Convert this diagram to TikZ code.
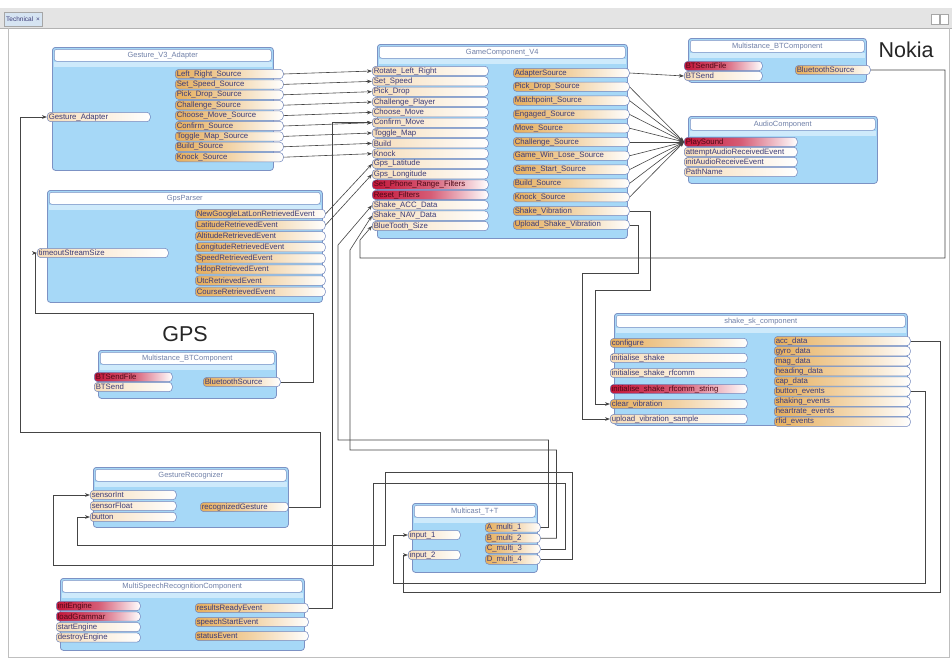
\documentclass[tikz,border=0pt]{standalone}
\usepackage{fontspec}
\setmainfont{Liberation Sans}
\usetikzlibrary{arrows.meta}
\definecolor{boxfill}{HTML}{A6D8F7}
\definecolor{boxdraw}{HTML}{7C92C4}
\definecolor{titletext}{HTML}{7080A8}
\definecolor{portdraw}{HTML}{6E84BC}
\definecolor{porttext}{HTML}{3C3C78}
\definecolor{outcol}{HTML}{E6AE5C}
\definecolor{incol}{HTML}{F6DDBA}
\definecolor{redcol}{HTML}{C4163A}
\definecolor{linecol}{HTML}{454545}
\definecolor{barfill}{HTML}{E4E4E4}
\definecolor{tabfill}{HTML}{D6E4F2}
\tikzset{
  compbox/.style={draw=boxdraw, fill=boxfill, rounded corners=3pt, line width=0.8pt, inner sep=0pt, anchor=north west},
  ttl/.style={draw=boxdraw, fill=white, rounded corners=2.5pt, line width=0.5pt, anchor=north west, inner sep=0pt, font=\fontsize{7.5}{8}\selectfont, text=titletext},
  portbase/.style={draw=portdraw, line width=0.5pt, rounded corners=3.5pt, inner xsep=1.5pt, inner ysep=0pt, minimum height=9.3pt, anchor=west, font=\fontsize{7.8}{8}\selectfont, text=porttext, align=left},
  inport/.style={portbase, left color=incol, right color=white},
  outport/.style={portbase, left color=outcol, right color=white, middle color=outcol!55!white},
  redport/.style={portbase, left color=redcol, right color=white, middle color=redcol!70!white, text=redcol!40!black},
  conn/.style={draw=linecol, line width=0.6pt},
  arr/.style={conn, -{Stealth[length=5pt,width=3.6pt]}},
  biglabel/.style={font=\fontsize{21.5}{24}\selectfont, text=black!85},
}
\newcommand{\mkcomp}[6]{%
  \node[compbox, minimum width=#4pt, minimum height=#5pt] (#1) at (#2,#3) {};
  \fill[boxfill!55!white] (#2+1.5,#3+15) rectangle (#2+#4-1.5,#3+20);
  \pgfmathsetmacro{\myTW}{#4-4}%
  \node[ttl, minimum width=\myTW pt, minimum height=12pt] (#1-t) at (#2+2,#3+2) {#6};}
\newcommand{\mkport}[6]{%
  \pgfmathsetmacro{\myTW}{#4-3}%
  \node[#1, text width=\myTW pt] (#2) at (#3,#5) {#6};}
\begin{document}
\begin{tikzpicture}[x=1pt,y=-1pt]
\useasboundingbox (0,0) rectangle (952,659);
\fill[white] (0,0) rectangle (952,659);
% window chrome
\fill[barfill] (0,8) rectangle (952,28);
\draw[gray!60] (0,28) -- (952,28);
\node[draw=gray!70, fill=tabfill, font=\fontsize{6.5}{7}\selectfont, text=porttext, anchor=west, inner sep=2pt, minimum height=14pt] (tab) at (4,19) {Technical \,×};
\node[draw=gray!70, fill=white, minimum width=8pt, minimum height=10pt, inner sep=0pt] (ic1) at (935,19) {};
\node[draw=gray!70, fill=white, minimum width=8pt, minimum height=10pt, inner sep=0pt] (ic2) at (944,19) {};
\draw[gray!50] (8,28) -- (8,657) -- (949,657) -- (949,28);

% ---------------- components
\mkcomp{ga}{52}{47}{221}{123}{Gesture\_V3\_Adapter}
\mkcomp{gm}{377}{44}{250}{194}{GameComponent\_V4}
\mkcomp{nk}{688}{38}{178}{44}{Multistance\_BTComponent}
\mkcomp{au}{688}{116}{189}{67}{AudioComponent}
\mkcomp{gp}{47}{190}{275}{112}{GpsParser}
\mkcomp{gb}{98}{350}{178}{48}{Multistance\_BTComponent}
\mkcomp{sk}{614}{313}{293}{112}{shake\_sk\_component}
\mkcomp{gr}{93}{467}{195}{60}{GestureRecognizer}
\mkcomp{mc}{412}{503}{125}{69}{Multicast\_T+T}
\mkcomp{ms}{60}{578}{244}{72}{MultiSpeechRecognitionComponent}

\node[biglabel] (nokia) at (906,50) {Nokia};
\node[biglabel] (gpslabel) at (185,334) {GPS};

% ---------------- ports
% Gesture_V3_Adapter
\mkport{inport}{ga-i1}{47}{103}{117}{Gesture\_Adapter}
\foreach \lab [count=\i] in {Left\_Right\_Source, Set\_Speed\_Source, Pick\_Drop\_Source, Challenge\_Source, Choose\_Move\_Source, Confirm\_Source, Toggle\_Map\_Source, Build\_Source, Knock\_Source}{
  \pgfmathsetmacro{\yy}{74+10.4*(\i-1)}
  \mkport{outport}{ga-o\i}{175}{108}{\yy}{\lab}}
% GameComponent_V4
\foreach \st/\lab [count=\i] in {inport/Rotate\_Left\_Right, inport/Set\_Speed, inport/Pick\_Drop, inport/Challenge\_Player, inport/Choose\_Move, inport/Confirm\_Move, inport/Toggle\_Map, inport/Build, inport/Knock, inport/Gps\_Latitude, inport/Gps\_Longitude, redport/Set\_Phone\_Range\_Filters, redport/Reset\_Filters, inport/Shake\_ACC\_Data, inport/Shake\_NAV\_Data, inport/BlueTooth\_Size}{
  \pgfmathsetmacro{\yy}{71+10.33*(\i-1)}
  \mkport{\st}{gm-i\i}{372}{116}{\yy}{\lab}}
\foreach \lab [count=\i] in {AdapterSource, Pick\_Drop\_Source, Matchpoint\_Source, Engaged\_Source, Move\_Source, Challenge\_Source, Game\_Win\_Lose\_Source, Game\_Start\_Source, Build\_Source, Knock\_Source, Shake\_Vibration, Upload\_Shake\_Vibration}{
  \pgfmathsetmacro{\yy}{73+13.8*(\i-1)}
  \mkport{outport}{gm-o\i}{513}{116}{\yy}{\lab}}
% Nokia BT
\mkport{redport}{nk-i1}{684}{78}{66}{BTSendFile}
\mkport{inport}{nk-i2}{684}{78}{76}{BTSend}
\mkport{outport}{nk-o1}{795}{75}{70}{BluetoothSource}
% Audio
\mkport{redport}{au-i1}{684}{113}{142}{PlaySound}
\mkport{inport}{au-i2}{684}{113}{152}{attemptAudioReceivedEvent}
\mkport{inport}{au-i3}{684}{113}{162}{initAudioReceiveEvent}
\mkport{inport}{au-i4}{684}{113}{172}{PathName}
% GpsParser
\mkport{inport}{gp-i1}{37}{131}{253}{timeoutStreamSize}
\foreach \lab [count=\i] in {NewGoogleLatLonRetrievedEvent, LatitudeRetrievedEvent, AltitudeRetrievedEvent, LongitudeRetrievedEvent, SpeedRetrievedEvent, HdopRetrievedEvent, UtcRetrievedEvent, CourseRetrievedEvent}{
  \pgfmathsetmacro{\yy}{214+11.1*(\i-1)}
  \mkport{outport}{gp-o\i}{195}{130}{\yy}{\lab}}
% GPS BT
\mkport{redport}{gb-i1}{94}{78}{377}{BTSendFile}
\mkport{inport}{gb-i2}{94}{78}{387}{BTSend}
\mkport{outport}{gb-o1}{203}{77}{382}{BluetoothSource}
% shake_sk_component
\mkport{outport}{sk-i1}{610}{137}{343}{configure}
\mkport{inport}{sk-i2}{610}{137}{358}{initialise\_shake}
\mkport{inport}{sk-i3}{610}{137}{373}{initialise\_shake\_rfcomm}
\mkport{redport}{sk-i4}{610}{137}{389}{initialise\_shake\_rfcomm\_string}
\mkport{outport}{sk-i5}{610}{137}{404}{clear\_vibration}
\mkport{inport}{sk-i6}{610}{137}{419}{upload\_vibration\_sample}
\foreach \lab [count=\i] in {acc\_data, gyro\_data, mag\_data, heading\_data, cap\_data, button\_events, shaking\_events, heartrate\_events, rfid\_events}{
  \pgfmathsetmacro{\yy}{341+10.1*(\i-1)}
  \mkport{outport}{sk-o\i}{774}{136}{\yy}{\lab}}
% GestureRecognizer
\mkport{inport}{gr-i1}{90}{86}{495}{sensorInt}
\mkport{inport}{gr-i2}{90}{86}{506}{sensorFloat}
\mkport{inport}{gr-i3}{90}{86}{517}{button}
\mkport{outport}{gr-o1}{200}{88}{507}{recognizedGesture}
% Multicast
\mkport{inport}{mc-i1}{408}{52}{535}{input\_1}
\mkport{inport}{mc-i2}{408}{52}{555}{input\_2}
\foreach \lab [count=\i] in {A\_multi\_1, B\_multi\_2, C\_multi\_3, D\_multi\_4}{
  \pgfmathsetmacro{\yy}{527.5+10.7*(\i-1)}
  \mkport{outport}{mc-o\i}{485}{55}{\yy}{\lab}}
% MultiSpeech
\mkport{redport}{ms-i1}{56}{84}{606}{initEngine}
\mkport{redport}{ms-i2}{56}{84}{616.5}{loadGrammar}
\mkport{inport}{ms-i3}{56}{84}{627}{startEngine}
\mkport{inport}{ms-i4}{56}{84}{637.5}{destroyEngine}
\mkport{outport}{ms-o1}{195}{113}{608}{resultsReadyEvent}
\mkport{outport}{ms-o2}{195}{113}{622}{speechStartEvent}
\mkport{outport}{ms-o3}{195}{113}{636}{statusEvent}

% ---------------- connectors
\foreach \i in {1,...,9}{\draw[arr] (ga-o\i.east) -- (gm-i\i.west);}
\draw[arr] (gp-o1.east) -- (gm-i10.west);
\draw[arr] (gp-o2.east) -- (gm-i11.west);
\draw[arr] (gm-o1.east) -- (nk-i2.west);
\foreach \i in {2,...,10}{\draw[arr] (gm-o\i.east) -- (au-i1.west);}
\draw[arr] (nk-o1.east) -| (945,258) -- (360,258) -- (360,240) -- (gm-i16.west);
\draw[arr] (gm-o11.east) -- ++(21,0) |- (595,290) |- (sk-i5.west);
\draw[arr] (gm-o12.east) -- ++(9,0) |- (582,273) |- (sk-i6.west);
\draw[arr] (gb-o1.east) -| (313,313) -- (35,313) |- (gp-i1.west);
\draw[arr] (gr-o1.east) -| (320,432) -- (20,432) |- (ga-i1.west);
\draw[arr] (ms-o1.east) -- ++(24,0) |- (gm-i6.west);
\draw[arr] (mc-o1.east) -- ++(8,0) |- (338,440) -- (338,245) -- (gm-i14.west);
\draw[arr] (mc-o2.east) -- ++(16,0) |- (350,450) -- (350,250) -- (gm-i15.west);
\draw[arr] (mc-o3.east) -- ++(25,0) |- (373,483) -- (373,565) -- (53,565) |- (gr-i1.west);
\draw[arr] (mc-o4.east) -- ++(32,0) |- (385,472) -- (385,545) -- (77,545) |- (gr-i3.west);
\draw[arr] (sk-o6.east) -| (925,583) -- (393,583) |- (mc-i1.west);
\draw[arr] (sk-o1.east) -| (940,592) -- (403,592) |- (mc-i2.west);
\end{tikzpicture}
\end{document}
